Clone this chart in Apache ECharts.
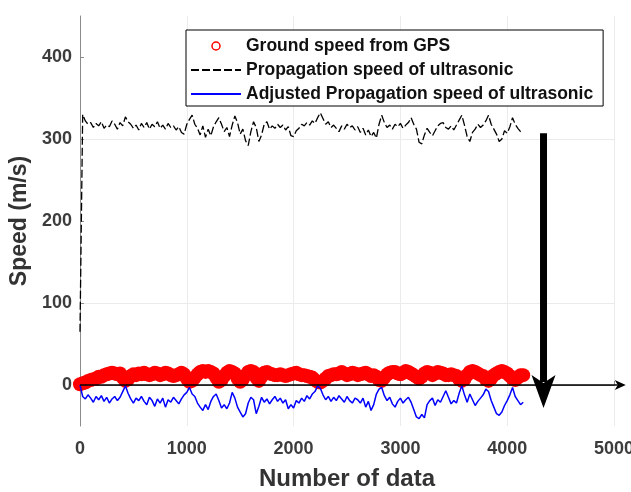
<!DOCTYPE html>
<html lang="en">

<head>
    <meta charset="utf-8">
    <style type="text/css">
    body {
        margin: 0;
        background-color: #fff
    }

    #echarts {
        width: 631px;
        height: 492px;
    }
    </style>
</head>

<body>
    <div id="echarts"></div>
    <script type="text/javascript" src="https://cdn.jsdelivr.net/npm/echarts@6/dist/echarts.min.js"></script>
    <script type="text/javascript">
    /* one sample every 25 data points, from 0 to 4150 */
    var xStep = 25;

    var gpsSpeed = [
        1, 2, 3, 5, 6, 7, 8, 10,
        10, 12, 13, 14, 15, 14, 13, 14,
        9, 5, 7, 11, 13, 12, 14, 13,
        15, 13, 12, 13, 15, 14, 12, 13,
        15, 14, 12, 11, 12, 13, 15, 13,
        8, 4, 5, 9, 13, 16, 17, 16,
        17, 16, 14, 9, 4, 6, 11, 15,
        17, 16, 14, 8, 4, 7, 12, 16,
        17, 16, 9, 5, 10, 15, 16, 14,
        13, 12, 12, 13, 12, 11, 12, 13,
        14, 15, 13, 12, 12, 11, 10, 9,
        6, 4, 3, 5, 8, 11, 12, 13,
        13, 14, 16, 14, 12, 13, 15, 14,
        12, 13, 14, 15, 13, 11, 12, 10,
        6, 5, 9, 13, 15, 16, 16, 14,
        13, 15, 17, 16, 14, 12, 10, 8,
        10, 14, 16, 15, 12, 14, 16, 15,
        14, 12, 12, 13, 12, 11, 7, 5,
        7, 12, 16, 17, 16, 14, 12, 11,
        7, 5, 8, 12, 14, 16, 17, 16,
        14, 11, 8, 6, 9, 12, 12
    ];

    var ultrasonicSpeed = [
        65, 330, 322, 318, 320, 314, 319, 316,
        321, 313, 317, 315, 322, 318, 312, 320,
        316, 327, 321, 318, 313, 317, 311, 319,
        314, 320, 312, 318, 315, 321, 313, 317,
        312, 319, 314, 316, 311, 315, 308, 306,
        318, 324, 329, 318, 313, 305, 316, 302,
        312, 304, 315, 321, 326, 318, 309, 314,
        303, 317, 328, 320, 306, 312, 298, 292,
        309, 321, 314, 297, 305, 318, 321, 312,
        316, 313, 318, 314, 317, 311, 315, 304,
        303, 310, 313, 318, 316, 320, 317, 322,
        319, 326, 332, 325, 318, 321, 314, 317,
        313, 309, 316, 312, 318, 314, 316, 311,
        315, 308, 313, 305, 311, 303, 308, 301,
        318, 329, 320, 314, 317, 312, 318, 315,
        319, 313, 317, 320, 326, 318, 312, 296,
        294, 305, 313, 308, 304, 310, 316, 319,
        320, 314, 312, 316, 311, 317, 323, 329,
        317, 303, 297, 308, 312, 318, 314, 317,
        322, 329, 318, 312, 306, 297, 300, 310,
        307, 315, 326, 318, 313, 309, 307
    ];

    var adjustedSpeed = [
        0, -14, -17, -12, -16, -21, -14, -18,
        -13, -20, -15, -22, -17, -14, -19, -15,
        -8, -1, -10, -17, -22, -16, -19, -14,
        -20, -24, -15, -19, -26, -17, -22, -16,
        -27, -18, -21, -15, -19, -23, -17, -12,
        -9, -3, -11, -14, -22, -27, -31, -24,
        -30, -20, -14, -11, -19, -28, -24, -29,
        -22, -9, -16, -27, -33, -39, -35, -22,
        -15, -18, -35, -26, -15, -21, -17, -23,
        -18, -14, -20, -16, -22, -18, -29, -24,
        -28, -19, -22, -16, -20, -13, -17, -11,
        -8, -1, -4, -12, -18, -14, -20, -15,
        -19, -13, -17, -21, -14, -19, -22, -16,
        -18, -22, -16, -27, -20, -31, -24, -11,
        -5, -3, -13, -19, -15, -23, -27, -20,
        -16, -22, -18, -15, -21, -30, -39, -41,
        -36, -40, -24, -19, -16, -25, -18, -21,
        -14, -7, -15, -23, -19, -22, -10, -1,
        -12, -21, -11, -18, -25, -20, -16, -12,
        -5, -8, -19, -27, -35, -37, -33, -25,
        -19, -12, -3, -14, -19, -24, -21
    ];

    var yLabels = [0, 100, 200, 300, 400];

    /* annotation arrows, in data units */
    var zeroArrowEnd = 5110;
    var downArrowX = 4340;
    var downArrowFrom = 307;
    var downArrowTo = -28;

    function toPairs(values) {
        return values.map(function(v, i) {
            return [i * xStep, v];
        });
    }

    var font = '"Liberation Sans", Arial, sans-serif';
    var noDot = { color: 'rgba(0,0,0,0)', borderWidth: 0 };
    var myEcharts = echarts.init(document.getElementById('echarts'));

    var option = {
        animation: false,
        backgroundColor: '#fff',
        grid: {
            left: 80,
            right: 17,
            top: 16,
            bottom: 66,
            outerBoundsMode: 'none'
        },
        legend: {
            orient: 'vertical',
            left: 186,
            top: 30,
            itemWidth: 50,
            itemHeight: 8,
            itemGap: 6,
            padding: [7, 10, 3, 4],
            borderColor: '#000',
            borderWidth: 1,
            backgroundColor: '#fff',
            textStyle: {
                fontFamily: font,
                fontWeight: 'bold',
                fontSize: 17.5,
                lineHeight: 18,
                color: '#111'
            },
            data: [{
                name: 'Ground speed from GPS',
                itemStyle: { color: 'rgba(0,0,0,0)', borderColor: '#ff0000', borderWidth: 1.5 }
            }, {
                name: 'Propagation speed of ultrasonic',
                itemStyle: noDot
            }, {
                name: 'Adjusted Propagation speed of ultrasonic',
                itemStyle: noDot
            }]
        },
        xAxis: {
            type: 'value',
            min: 0,
            max: 5000,
            interval: 1000,
            name: 'Number of data',
            nameLocation: 'middle',
            nameGap: 41,
            nameTextStyle: {
                fontFamily: font,
                fontWeight: 'bold',
                fontSize: 24,
                color: '#333'
            },
            axisLine: {
                lineStyle: { color: '#8c8c8c', width: 1 }
            },
            axisTick: {
                inside: true,
                length: 4,
                lineStyle: { color: '#8c8c8c' }
            },
            axisLabel: {
                margin: 14,
                fontFamily: font,
                fontWeight: 'bold',
                fontSize: 18,
                color: '#3c3c3c',
                formatter: function(v) {
                    return String(v);
                }
            },
            splitLine: {
                show: true,
                lineStyle: { color: '#ebebeb', width: 1 }
            }
        },
        yAxis: {
            type: 'value',
            min: -50,
            max: 450,
            interval: 50,
            name: 'Speed (m/s)',
            nameLocation: 'middle',
            nameGap: 43,
            nameTextStyle: {
                fontFamily: font,
                fontWeight: 'bold',
                fontSize: 23,
                color: '#333'
            },
            axisLine: {
                show: true,
                lineStyle: { color: '#8c8c8c', width: 1 }
            },
            axisTick: {
                inside: true,
                length: 4,
                customValues: yLabels,
                lineStyle: { color: '#8c8c8c' }
            },
            axisLabel: {
                margin: 8,
                fontFamily: font,
                fontWeight: 'bold',
                fontSize: 18,
                color: '#3c3c3c',
                formatter: function(v) {
                    return yLabels.indexOf(v) >= 0 ? String(v) : '';
                }
            },
            splitLine: {
                show: true,
                lineStyle: { color: ['rgba(0,0,0,0)', '#ebebeb'], width: 1 }
            }
        },
        series: [{
            name: 'Ground speed from GPS',
            type: 'scatter',
            symbol: 'circle',
            symbolSize: 14,
            itemStyle: {
                color: '#ff0000',
                opacity: 1
            },
            data: toPairs(gpsSpeed)
        }, {
            name: 'Propagation speed of ultrasonic',
            type: 'line',
            symbol: 'none',
            color: '#000',
            lineStyle: {
                color: '#000',
                width: 1.3,
                type: [8, 3]
            },
            data: toPairs(ultrasonicSpeed)
        }, {
            name: 'Adjusted Propagation speed of ultrasonic',
            type: 'line',
            symbol: 'none',
            color: '#0000ff',
            lineStyle: {
                color: '#0000ff',
                width: 1.5
            },
            data: toPairs(adjustedSpeed)
        }]
    };
    myEcharts.setOption(option);

    /* arrows drawn on top, placed through the axes' own scales */
    function px(x, y) {
        return myEcharts.convertToPixel({ gridIndex: 0 }, [x, y]);
    }
    var z0 = px(0, 0);
    var zEnd = px(zeroArrowEnd, 0);
    var dTop = px(downArrowX, downArrowFrom);
    var dTip = px(downArrowX, downArrowTo);

    myEcharts.setOption({
        graphic: [{
            type: 'line',
            z: 100,
            shape: { x1: z0[0], y1: z0[1], x2: zEnd[0] - 8, y2: zEnd[1] },
            style: { stroke: '#000', lineWidth: 1.5 }
        }, {
            type: 'polygon',
            z: 100,
            shape: {
                points: [
                    [zEnd[0], zEnd[1]],
                    [zEnd[0] - 11, zEnd[1] - 5],
                    [zEnd[0] - 8, zEnd[1]],
                    [zEnd[0] - 11, zEnd[1] + 5]
                ]
            },
            style: { fill: '#000' }
        }, {
            type: 'line',
            z: 100,
            shape: { x1: dTop[0], y1: dTop[1], x2: dTip[0], y2: dTip[1] - 26 },
            style: { stroke: '#000', lineWidth: 7 }
        }, {
            type: 'polygon',
            z: 100,
            shape: {
                points: [
                    [dTip[0], dTip[1]],
                    [dTip[0] - 12, dTip[1] - 33],
                    [dTip[0], dTip[1] - 25],
                    [dTip[0] + 12, dTip[1] - 33]
                ]
            },
            style: { fill: '#000' }
        }]
    });
    </script>
</body>

</html>
